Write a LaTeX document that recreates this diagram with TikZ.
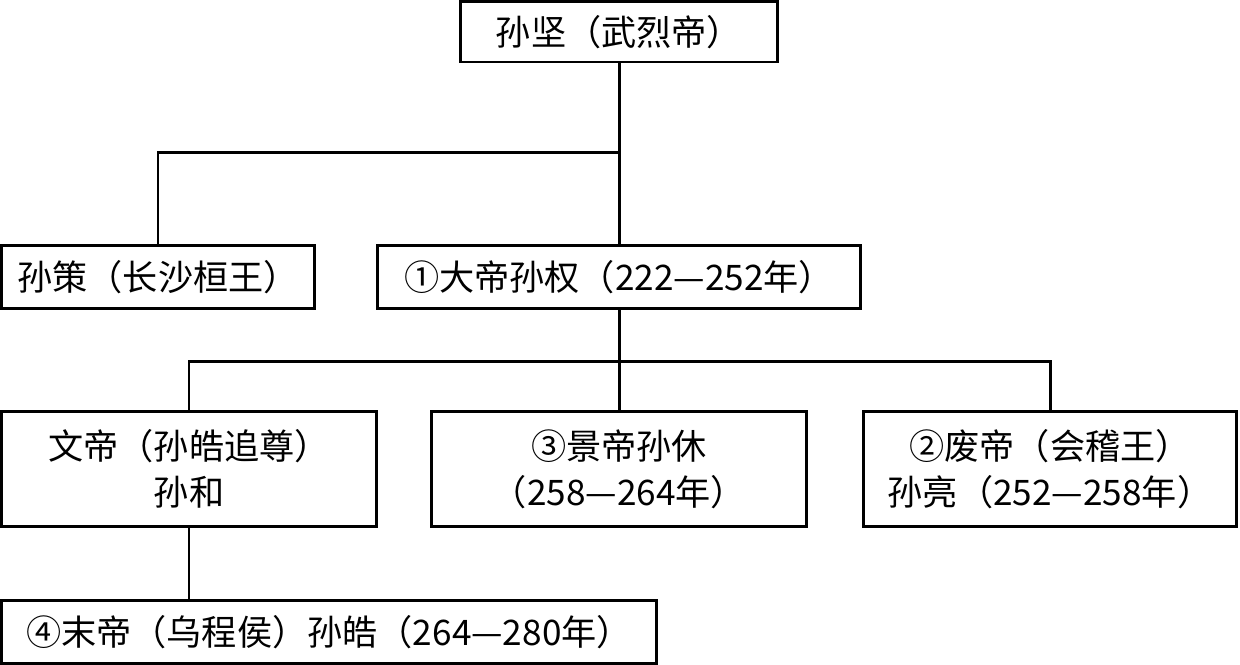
\documentclass[tikz,border=0pt]{standalone}
\usepackage{fontspec}
\setmainfont{Noto Sans CJK SC}
\usepackage{tikz}
\tikzset{every picture/.style={/utils/exec={\fontsize{10}{13}\selectfont}}}
\tikzstyle{line}=[line width=0.85pt]
\tikzstyle{box}=[line,draw,inner sep=0pt,align=center]
\begin{document}
\begin{tikzpicture}[x=0.01cm,y=-0.01cm]
    \useasboundingbox (0,0) rectangle (1240,665);
    % generations
    \node[box,minimum width=3.16cm,minimum height=0.60cm] (Jian) at (619,32) {孙坚（武烈帝）};
    \node[box,minimum width=3.13cm,minimum height=0.62cm] (Ce) at (158,277) {孙策（长沙桓王）};
    \node[box,minimum width=4.82cm,minimum height=0.62cm] (Quan) at (619,277) {①大帝孙权（222—252年）};
    \node[box,minimum width=3.75cm,minimum height=1.14cm] (He) at (189,469) {文帝（孙皓追尊）\\孙和};
    \node[box,minimum width=3.75cm,minimum height=1.14cm] (Xiu) at (619,469) {③景帝孙休\\（258—264年）};
    \node[box,minimum width=3.73cm,minimum height=1.14cm] (Liang) at (1050,469) {②废帝（会稽王）\\孙亮（252—258年）};
    \node[box,minimum width=6.55cm,minimum height=0.62cm] (Hao) at (329,632) {④末帝（乌程侯）孙皓（264—280年）};
    \coordinate (Fork1) at (619,153);
    \coordinate (Fork2) at (619,362);
    % connectors
    \draw[line] (Jian.south) -- (Quan.north);
    \draw[line] (Ce.north) |- (Fork1);
    \draw[line] (Quan.south) -- (Xiu.north);
    \draw[line] (He.north) |- (Fork2) -| (Liang.north);
    \draw[line] (He.south) -- (He.south |- Hao.north);
  \end{tikzpicture}
\end{document}
